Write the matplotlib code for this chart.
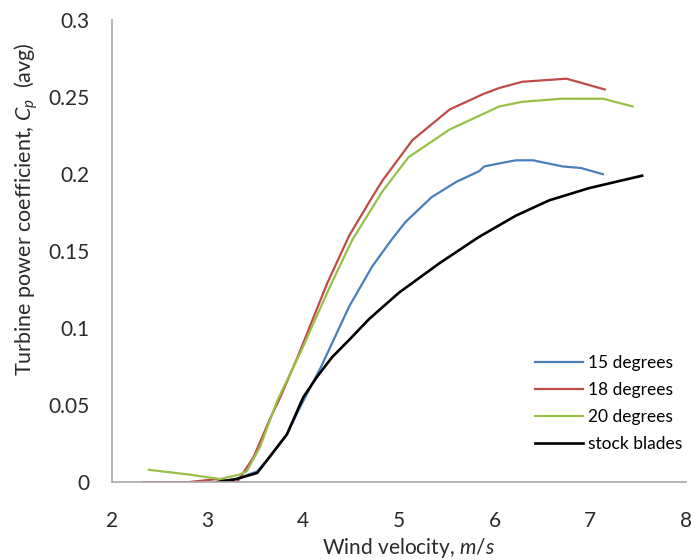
import matplotlib.pyplot as plt

# Data
v_15 = [3.10, 3.30, 3.52, 3.66, 3.83, 3.97, 4.18, 4.48, 4.72, 4.93, 5.07, 5.34, 5.60, 5.84, 5.89, 6.05, 6.22, 6.40, 6.71, 6.90, 7.13]
cp_15 = [0.000, 0.002, 0.007, 0.017, 0.031, 0.049, 0.074, 0.114, 0.140, 0.158, 0.169, 0.185, 0.195, 0.202, 0.205, 0.207, 0.209, 0.209, 0.205, 0.204, 0.200]

v_18 = [2.33, 2.80, 3.10, 3.31, 3.48, 3.66, 3.76, 3.94, 4.25, 4.48, 4.72, 4.83, 5.14, 5.53, 5.88, 6.05, 6.29, 6.75, 7.15]
cp_18 = [0.000, 0.000, 0.002, 0.000, 0.016, 0.042, 0.055, 0.081, 0.129, 0.160, 0.185, 0.196, 0.222, 0.242, 0.252, 0.256, 0.260, 0.262, 0.255]

v_20 = [2.39, 2.80, 3.13, 3.34, 3.41, 3.55, 3.73, 3.97, 4.28, 4.51, 4.72, 4.83, 5.10, 5.53, 6.05, 6.29, 6.70, 7.13, 7.44]
cp_20 = [0.008, 0.005, 0.002, 0.005, 0.007, 0.023, 0.053, 0.084, 0.127, 0.157, 0.178, 0.189, 0.211, 0.229, 0.244, 0.247, 0.249, 0.249, 0.244]

v_stock = [3.10, 3.30, 3.52, 3.83, 4.00, 4.14, 4.30, 4.49, 4.69, 5.00, 5.42, 5.83, 6.22, 6.57, 6.99, 7.54]
cp_stock = [0.000, 0.002, 0.006, 0.031, 0.055, 0.068, 0.081, 0.093, 0.106, 0.123, 0.142, 0.159, 0.173, 0.183, 0.191, 0.199]

x_ticks = [2, 3, 4, 5, 6, 7, 8]
y_ticks = [0, 0.05, 0.1, 0.15, 0.2, 0.25, 0.3]
y_tick_labels = ["0", "0.05", "0.1", "0.15", "0.2", "0.25", "0.3"]

plt.rcParams["font.family"] = ["Lato", "DejaVu Sans"]
plt.rcParams["mathtext.fontset"] = "custom"
plt.rcParams["mathtext.it"] = "Lato:italic"
plt.rcParams["mathtext.rm"] = "Lato"

text_color = "#2a2a2a"

fig = plt.figure(figsize=(6.98, 5.6), dpi=100)
ax = fig.add_axes([0.160, 0.139, 0.823, 0.825])

ax.plot(v_15, cp_15, color="#4a7ebb", lw=1.6, label="15 degrees")
ax.plot(v_18, cp_18, color="#be4b48", lw=1.6, label="18 degrees")
ax.plot(v_20, cp_20, color="#98c047", lw=1.6, label="20 degrees")
ax.plot(v_stock, cp_stock, color="black", lw=1.9, label="stock blades")

ax.set_xlim(2, 8)
ax.set_ylim(0, 0.3)
ax.set_xticks(x_ticks)
ax.set_yticks(y_ticks)
ax.set_yticklabels(y_tick_labels)
ax.tick_params(length=0, labelsize=15, colors=text_color)
ax.tick_params(axis="x", pad=21)
ax.tick_params(axis="y", pad=16)

for side in ["top", "right"]:
    ax.spines[side].set_visible(False)
for side in ["left", "bottom"]:
    ax.spines[side].set_color("#a8a8a8")
    ax.spines[side].set_linewidth(1.2)

ax.set_xlabel("Wind velocity, $m/s$", fontsize=15, color=text_color)
ax.set_ylabel("Turbine power coefficient, $C_p$  (avg)", fontsize=15.5, color=text_color)
ax.xaxis.set_label_coords(0.516, -0.117)
ax.yaxis.set_label_coords(-0.124, 0.591)

ax.legend(loc="upper left", bbox_to_anchor=(0.725, 0.29), frameon=False,
          fontsize=12.5, handlelength=2.75, handletextpad=0.3, labelspacing=0.63,
          borderaxespad=0)

fig.savefig("out.png", dpi=100)
